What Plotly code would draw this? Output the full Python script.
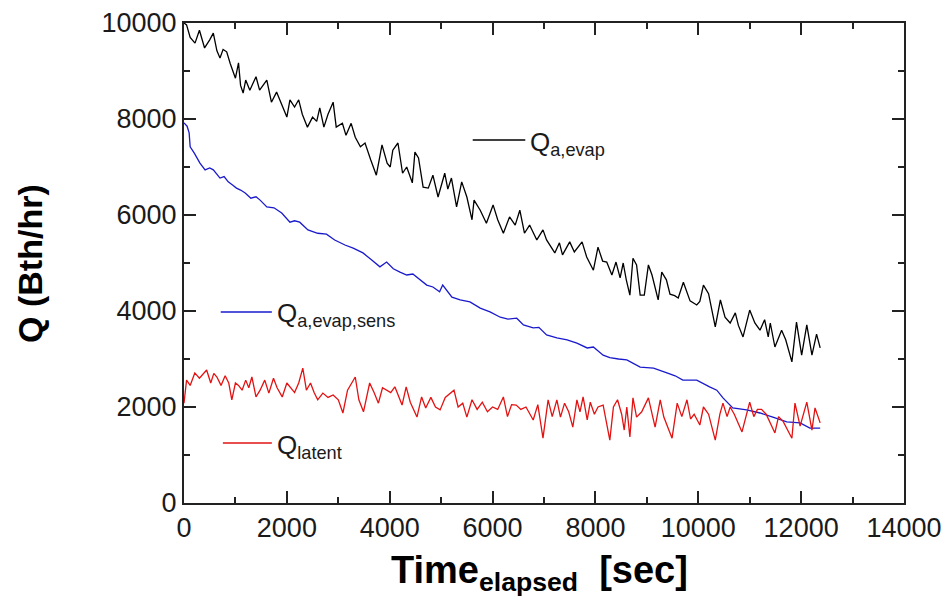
import plotly.graph_objects as go

# ---- data ----
t_evap = [0, 50, 120, 214, 300, 400, 500, 570, 640, 700, 760, 830, 900, 1000, 1060, 1100, 1150, 1200,
          1280, 1400, 1470, 1530, 1610, 1700, 1800, 1900, 2000, 2060, 2150, 2230, 2300, 2400, 2500,
          2580, 2640, 2720, 2800, 2900, 2960, 3080, 3150, 3250, 3330, 3430, 3520, 3630, 3740, 3850,
          3950, 4010, 4060, 4160, 4250, 4330, 4440, 4490, 4560, 4650, 4750, 4840, 4940, 5070, 5130,
          5200, 5300, 5400, 5500, 5600, 5640, 5760, 5880, 6010, 6100, 6210, 6330, 6440, 6530, 6620,
          6720, 6860, 6980, 7050, 7210, 7300, 7360, 7500, 7590, 7740, 7830, 7960, 8050, 8140, 8220,
          8320, 8400, 8480, 8540, 8600, 8670, 8730, 8800, 8870, 8950, 9030, 9100, 9220, 9290, 9380,
          9450, 9540, 9610, 9710, 9840, 9970, 10030, 10100, 10200, 10330, 10430, 10520, 10620, 10720,
          10780, 10870, 11000, 11100, 11200, 11290, 11360, 11400, 11490, 11620, 11700, 11820, 11910,
          12010, 12110, 12210, 12300, 12370]
q_evap = [10000, 9960, 9700, 9580, 9850, 9480, 9650, 9790, 9420, 9270, 9450, 9400, 9150, 8850, 9170, 8700,
          8540, 8810, 8600, 8880, 8600, 8700, 8810, 8350, 8560, 8300, 8040, 8400, 8250, 8400, 8100, 7830,
          8040, 7950, 8230, 7830, 8100, 8350, 7830, 7910, 7660, 7910, 7620, 7420, 7500, 7150, 6830, 7460,
          7080, 7000, 7350, 7500, 6870, 7000, 6670, 7310, 7190, 6580, 6560, 6830, 6375, 6870, 6540, 6770,
          6170, 6690, 6375, 5900, 6310, 6100, 5830, 6210, 5900, 5620, 5960, 5790, 6100, 5620, 5790, 5480,
          5690, 5480, 5210, 5420, 5170, 5440, 5230, 5440, 5125, 4850, 5330, 5040, 5020, 4750, 5020, 4690,
          5000, 4650, 4330, 5100, 4960, 4330, 4330, 4960, 4750, 4230, 4810, 4650, 4350, 4320, 4270, 4600,
          4210, 4125, 4200, 4540, 4360, 3670, 4230, 3870, 3750, 3960, 3700, 3460, 4020, 3750, 3600, 3820,
          3460, 3750, 3250, 3600, 3400, 2940, 3770, 3080, 3710, 3080, 3520, 3230]

t_sens = [0, 60, 100, 120, 200, 310, 410, 500, 570, 700, 780, 860, 950, 1020, 1100, 1190, 1300, 1400,
          1480, 1610, 1750, 1900, 2060, 2150, 2250, 2410, 2600, 2770, 2930, 3130, 3290, 3480, 3650,
          3810, 3940, 4070, 4200, 4330, 4450, 4590, 4720, 4840, 4970, 5030, 5210, 5370, 5560, 5760,
          5950, 6150, 6300, 6470, 6600, 6790, 6900, 7050, 7250, 7450, 7640, 7840, 7960, 8150, 8280,
          8450, 8610, 8870, 9130, 9390, 9550, 9700, 9970, 10220, 10360, 10480, 10570, 10670, 10940,
          11200, 11450, 11720, 11980, 12170, 12370]
q_sens = [7920, 7850, 7710, 7420, 7290, 7080, 6940, 6980, 6940, 6770, 6800, 6690, 6620, 6560, 6520, 6460,
          6350, 6380, 6310, 6170, 6150, 6040, 5850, 5880, 5850, 5690, 5620, 5600, 5480, 5375, 5310, 5210,
          5060, 4920, 5020, 4880, 4810, 4750, 4770, 4650, 4540, 4500, 4400, 4540, 4290, 4230, 4190, 4060,
          3980, 3870, 3830, 3850, 3710, 3650, 3660, 3500, 3440, 3400, 3330, 3230, 3250, 3080, 3030, 3000,
          2980, 2830, 2810, 2710, 2650, 2560, 2560, 2420, 2350, 2190, 2080, 1980, 1940, 1875, 1790, 1690,
          1670, 1560, 1560]

t_lat = [0, 50, 120, 210, 300, 370, 440, 520, 580, 640, 720, 800, 870, 930, 1000, 1060, 1130, 1200, 1260,
         1320, 1400, 1480, 1570, 1650, 1740, 1810, 1910, 2000, 2080, 2150, 2230, 2310, 2380, 2460, 2530,
         2600, 2700, 2800, 2900, 3000, 3090, 3180, 3330, 3400, 3490, 3610, 3700, 3780, 3860, 3940, 4020,
         4100, 4180, 4240, 4320, 4400, 4530, 4620, 4700, 4800, 4890, 4980, 5080, 5170, 5250, 5330, 5420,
         5500, 5600, 5700, 5800, 5900, 6000, 6100, 6210, 6290, 6370, 6460, 6550, 6650, 6790, 6880, 6980,
         7080, 7160, 7250, 7320, 7400, 7480, 7560, 7640, 7700, 7760, 7840, 7900, 7980, 8050, 8150, 8280,
         8350, 8430, 8510, 8560, 8610, 8670, 8730, 8800, 8900, 9030, 9160, 9260, 9330, 9400, 9490, 9590,
         9680, 9780, 9850, 9920, 10030, 10100, 10200, 10330, 10420, 10480, 10560, 10620, 10700, 10850,
         11000, 11080, 11150, 11230, 11320, 11490, 11560, 11650, 11820, 11880, 11980, 12110, 12210,
         12270, 12370]
q_lat = [2080, 2560, 2450, 2710, 2600, 2680, 2770, 2500, 2700, 2625, 2450, 2650, 2500, 2150, 2500, 2450,
         2350, 2560, 2400, 2625, 2210, 2350, 2560, 2290, 2600, 2400, 2210, 2500, 2400, 2300, 2500, 2810,
         2350, 2500, 2300, 2150, 2290, 2200, 2250, 2150, 1875, 2350, 2625, 2150, 1900, 2500, 2290, 2080,
         2400, 2350, 2300, 2420, 2200, 2040, 2420, 2100, 1790, 2210, 1980, 2200, 2000, 1940, 2200, 2290,
         2350, 2000, 2080, 1790, 2150, 1950, 2100, 1900, 2000, 1950, 2210, 1800, 2050, 2040, 1950, 2000,
         1730, 2050, 1350, 2150, 1800, 2150, 1790, 2080, 1900, 1580, 2150, 1900, 2210, 1730, 2100, 1850,
         2000, 2040, 1310, 2000, 2150, 1850, 1520, 2000, 1375, 2190, 1790, 1900, 2190, 1580, 2150, 1790,
         1600, 1350, 2080, 1800, 2150, 1750, 1850, 1625, 2000, 1850, 1310, 1850, 2080, 1800, 2000, 1850,
         1480, 2100, 1800, 1950, 1950, 1850, 1460, 1800, 1700, 1350, 2080, 1600, 2100, 1520, 1980, 1670]

x_ticks = [0, 2000, 4000, 6000, 8000, 10000, 12000, 14000]
y_ticks = [0, 2000, 4000, 6000, 8000, 10000]
x_minor = [1000, 3000, 5000, 7000, 9000, 11000, 13000]
y_minor = [1000, 3000, 5000, 7000, 9000]

FONT = "Liberation Sans, Arial, sans-serif"
BLACK = "#000000"
BLUE = "#1a1acc"
RED = "#e31212"

fig = go.Figure()
fig.add_trace(go.Scatter(x=t_evap, y=q_evap, mode="lines", line=dict(color=BLACK, width=1.3), showlegend=False))
fig.add_trace(go.Scatter(x=t_sens, y=q_sens, mode="lines", line=dict(color=BLUE, width=1.3), showlegend=False))
fig.add_trace(go.Scatter(x=t_lat, y=q_lat, mode="lines", line=dict(color=RED, width=1.3), showlegend=False))

axis_common = dict(
    showline=True, linecolor="#222222", linewidth=2, mirror="ticks",
    ticks="inside", ticklen=12, tickwidth=2, tickcolor="#222222",
    showgrid=False, zeroline=False, automargin=False,
    tickfont=dict(family=FONT, size=27, color="#1a1a1a"),
)

fig.update_xaxes(range=[0, 14000], tickmode="array", tickvals=x_ticks,
                 ticktext=[str(v) for v in x_ticks],
                 minor=dict(ticks="inside", ticklen=6, tickwidth=2, tickcolor="#222222",
                            tickmode="array", tickvals=x_minor, showgrid=False),
                 **axis_common)
fig.update_yaxes(range=[0, 10000], tickmode="array", tickvals=y_ticks,
                 ticktext=[str(v) for v in y_ticks],
                 minor=dict(ticks="inside", ticklen=6, tickwidth=2, tickcolor="#222222",
                            tickmode="array", tickvals=y_minor, showgrid=False),
                 **axis_common)

# in-plot legend entries (line sample + label)
legend_items = [
    (0.401, 0.474, 0.756, BLACK, "Q<sub>a,evap</sub>"),
    (0.051, 0.122, 0.398, BLUE, "Q<sub>a,evap,sens</sub>"),
    (0.054, 0.122, 0.125, RED, "Q<sub>latent</sub>"),
]
for x0, x1, yy, col, label in legend_items:
    fig.add_shape(type="line", xref="paper", yref="paper", x0=x0, x1=x1, y0=yy, y1=yy,
                  line=dict(color=col, width=1.5))
    fig.add_annotation(xref="paper", yref="paper", x=x1 + 0.004, y=yy, text=label, showarrow=False,
                       xanchor="left", yanchor="middle", yshift=-3,
                       font=dict(family=FONT, size=26, color="#1a1a1a"))

fig.add_annotation(xref="paper", yref="paper", x=-0.214, y=0.5, text="<b>Q (Bth/hr)</b>",
                   textangle=-90, showarrow=False, xanchor="center", yanchor="middle",
                   font=dict(family=FONT, size=34, color="#000"))
fig.add_annotation(xref="paper", yref="paper", x=0.494, y=-0.146,
                   text="<b>Time<sub>elapsed</sub>&nbsp;&nbsp;[sec]</b>",
                   showarrow=False, xanchor="center", yanchor="middle",
                   font=dict(family=FONT, size=38, color="#000"))

fig.update_layout(
    width=947, height=604,
    margin=dict(l=184, r=43, t=23, b=101, autoexpand=False),
    paper_bgcolor="white", plot_bgcolor="white",
    showlegend=False,
)

fig.write_html("out.html", config={"displayModeBar": False},
               post_script="document.body.style.margin='0';")
